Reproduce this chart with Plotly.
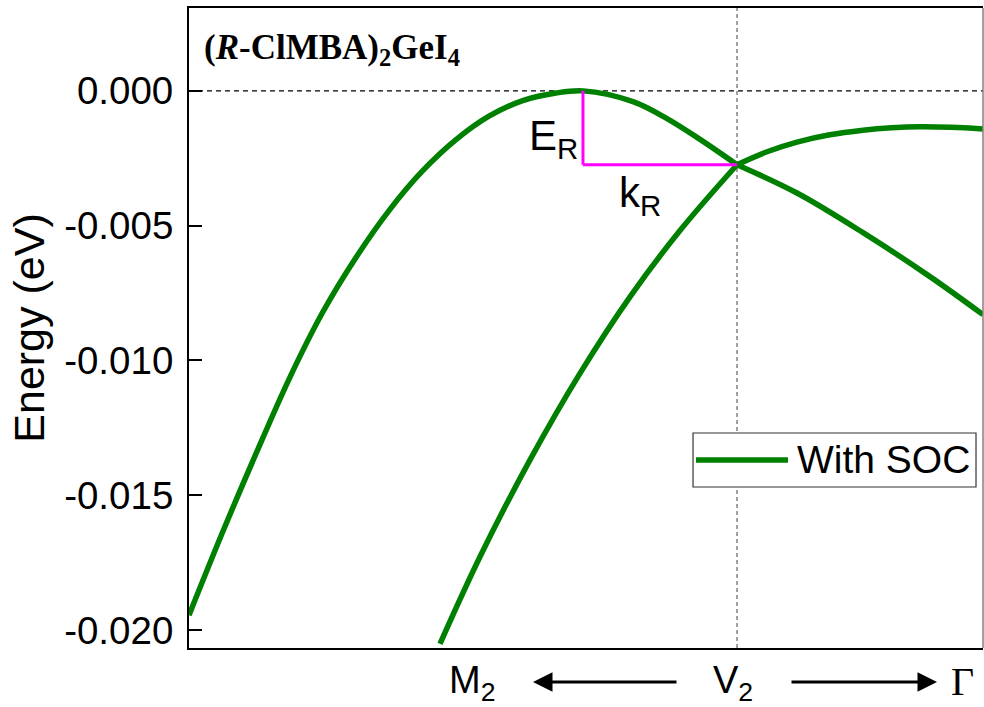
import plotly.graph_objects as go

# ---- data (k in fractional path units M2 -> V2 -> Gamma, energy in eV) ----
# left of V2, upper band (Rashba maximum)
left_upper_k = [0.0, 0.0416, 0.0844, 0.1259, 0.1675, 0.2103, 0.2519, 0.2935, 0.3363, 0.3778,
                0.4194, 0.4622, 0.4962, 0.5592, 0.6020, 0.6436, 0.6902]
left_upper_E = [-0.01945, -0.01642, -0.01346, -0.01070, -0.00826, -0.00618, -0.00444, -0.00299, -0.00181,
                -0.00094, -0.00037, -0.00008, 0.0, -0.00040, -0.00103, -0.00180, -0.00274]
# left of V2, lower band
left_lower_k = [0.3161, 0.3665, 0.4295, 0.4924, 0.5554, 0.6184, 0.6902]
left_lower_E = [-0.02051, -0.01728, -0.01369, -0.01048, -0.00764, -0.00518, -0.00274]
# right of V2 (towards Gamma)
right_lower_k = [0.6902, 0.7657, 0.8489, 0.9332, 1.0]
right_lower_E = [-0.00274, -0.00379, -0.00526, -0.00689, -0.00830]
right_upper_k = [0.6902, 0.7280, 0.7657, 0.8070, 0.8489, 0.8850, 0.9207, 0.9600, 1.0]
right_upper_E = [-0.00274, -0.00226, -0.00190, -0.00163, -0.00146, -0.00137, -0.00133, -0.00135, -0.00141]

k_peak = 0.4962
k_V2 = 0.6902
E_cross = -0.00274

y_ticks = [0.0, -0.005, -0.010, -0.015, -0.020]
y_tick_text = ["0.000", "-0.005", "-0.010", "-0.015", "-0.020"]

GREEN = "rgb(0,128,0)"
SANS = "Liberation Sans, Arial, sans-serif"
SERIF = "Liberation Serif, Times New Roman, serif"

fig = go.Figure()
segments = [(left_upper_k, left_upper_E), (left_lower_k, left_lower_E),
            (right_lower_k, right_lower_E), (right_upper_k, right_upper_E)]
for i, (kk, ee) in enumerate(segments):
    fig.add_trace(go.Scatter(x=kk, y=ee, mode="lines", name="With SOC", legendgroup="soc",
                             showlegend=False,
                             line=dict(color=GREEN, width=5.5, shape="spline", smoothing=1.0)))

# reference lines
fig.add_shape(type="line", xref="paper", x0=0, x1=1, yref="y", y0=0, y1=0,
              line=dict(color="black", width=1.2, dash="5px,4px"), layer="below")
fig.add_shape(type="line", xref="x", x0=k_V2, x1=k_V2, yref="paper", y0=0, y1=1,
              line=dict(color="gray", width=1.5, dash="4px,3px"), layer="below")
# Rashba marks
fig.add_shape(type="line", x0=k_peak, x1=k_peak, y0=0, y1=E_cross,
              line=dict(color="#FF00FF", width=3))
fig.add_shape(type="line", x0=k_peak, x1=k_V2, y0=E_cross, y1=E_cross,
              line=dict(color="#FF00FF", width=3))
# right frame line
fig.add_shape(type="line", xref="paper", yref="paper", x0=1, x1=1, y0=0, y1=1,
              line=dict(color="gray", width=1.5))

# legend box
fig.add_shape(type="rect", xref="paper", yref="paper", x0=0.6348, x1=0.9912, y0=0.2516, y1=0.3359,
              line=dict(color="#333333", width=1.2), fillcolor="white")
fig.add_shape(type="line", xref="paper", yref="paper", x0=0.6385, x1=0.7544, y0=0.2938, y1=0.2938,
              line=dict(color=GREEN, width=5.5))

annotations = [
    dict(text="With SOC", xref="paper", yref="paper", x=0.7632, y=0.2938, xanchor="left",
         yanchor="middle", showarrow=False, font=dict(family=SANS, size=39, color="black")),
    dict(text="<b>(<i>R</i>-ClMBA)<sub>2</sub>GeI<sub>4</sub></b>", xref="paper", yref="paper",
         x=0.016, y=0.935, xanchor="left", yanchor="middle", showarrow=False,
         font=dict(family=SERIF, size=35, color="black")),
    dict(text="E<sub>R</sub>", xref="paper", yref="paper", x=(580 - 189) / 794, y=(648 - 138) / 640,
         xanchor="right", yanchor="middle", showarrow=False, font=dict(family=SANS, size=42, color="black")),
    dict(text="k<sub>R</sub>", xref="paper", yref="paper", x=(617 - 189) / 794, y=(648 - 195) / 640,
         xanchor="left", yanchor="middle", showarrow=False, font=dict(family=SANS, size=42, color="black")),
    dict(text="M<sub>2</sub>", xref="paper", yref="paper", x=(472 - 189) / 794, y=(648 - 683) / 640,
         xanchor="center", yanchor="middle", showarrow=False, font=dict(family=SANS, size=38, color="black")),
    dict(text="V<sub>2</sub>", xref="paper", yref="paper", x=(733 - 189) / 794, y=(648 - 683) / 640,
         xanchor="center", yanchor="middle", showarrow=False, font=dict(family=SANS, size=38, color="black")),
    dict(text="Γ", xref="paper", yref="paper", x=(962 - 189) / 794, y=(648 - 681) / 640,
         xanchor="center", yanchor="middle", showarrow=False, font=dict(family=SERIF, size=40, color="black")),
    dict(text="", xref="paper", yref="paper", x=(533 - 189) / 794, y=(648 - 682) / 640,
         ax=145, ay=0, showarrow=True, arrowhead=2, arrowsize=1.3, arrowwidth=3, arrowcolor="black"),
    dict(text="", xref="paper", yref="paper", x=(937 - 189) / 794, y=(648 - 682) / 640,
         ax=-147, ay=0, showarrow=True, arrowhead=2, arrowsize=1.3, arrowwidth=3, arrowcolor="black"),
]

fig.update_layout(
    width=984, height=707,
    margin=dict(l=189, r=1, t=8, b=59),
    paper_bgcolor="white", plot_bgcolor="white",
    showlegend=False,
    annotations=annotations,
    xaxis=dict(range=[0, 1], showticklabels=False, ticks="", showgrid=False, zeroline=False,
               showline=True, linecolor="black", linewidth=2, mirror=True),
    yaxis=dict(range=[-0.020667, 0.003074], tickvals=y_ticks, ticktext=y_tick_text,
               ticks="inside", ticklen=13, tickwidth=2, tickcolor="black",
               showgrid=False, zeroline=False, showline=True, linecolor="black", linewidth=2,
               ticklabelstandoff=6,
               tickfont=dict(family=SANS, size=38.5, color="black"),
               title=dict(text="Energy (eV)", font=dict(family=SANS, size=43, color="black"), standoff=6)),
)

fig.write_html("out.html", config={"displayModeBar": False},
               post_script="document.body.style.margin='0';document.body.style.overflow='hidden';")
